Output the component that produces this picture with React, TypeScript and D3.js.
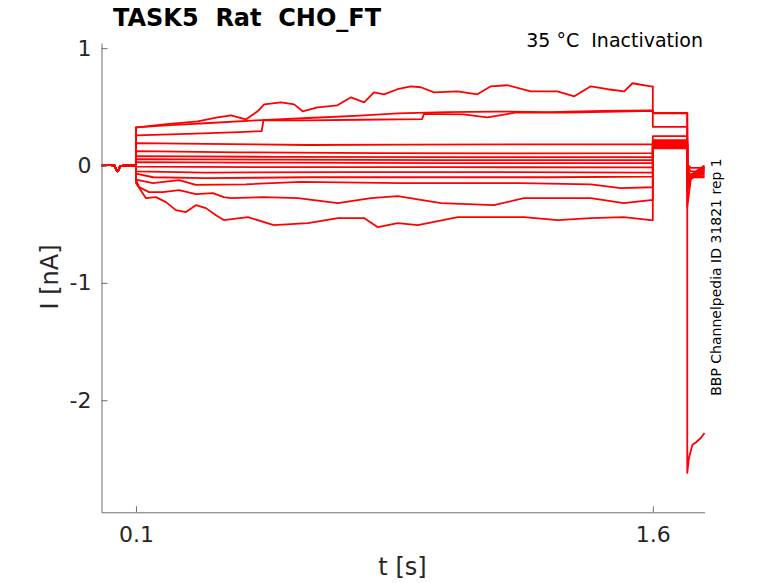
import React, { useEffect } from 'react';
import * as d3 from 'd3';

type Pt = [number, number];

// holding current before the conditioning step (s, nA)
const holding: Pt[] = [
  [0, 0.0], [0.02, 0.005], [0.038, 0.0], [0.042, -0.03], [0.046, -0.05], [0.05, -0.035], [0.054, -0.005],
  [0.075, 0.003], [0.1, 0.0],
];

// conditioning step 0.1 s .. 1.6 s
const stepA: Pt[] = [
  [0.1, 0.325], [0.105, 0.325], [0.182, 0.35], [0.279, 0.376], [0.337, 0.41], [0.376, 0.427],
  [0.419, 0.393], [0.453, 0.462], [0.472, 0.521], [0.521, 0.538], [0.559, 0.521], [0.584, 0.462],
  [0.627, 0.496], [0.685, 0.513], [0.724, 0.581], [0.762, 0.538], [0.791, 0.624], [0.82, 0.607],
  [0.859, 0.65], [0.898, 0.675], [0.927, 0.667], [0.965, 0.624], [1.033, 0.632], [1.091, 0.607],
  [1.13, 0.675], [1.178, 0.684], [1.246, 0.632], [1.323, 0.632], [1.372, 0.59], [1.42, 0.675],
  [1.469, 0.65], [1.517, 0.632], [1.541, 0.701], [1.594, 0.675], [1.6, 0.675],
];
const stepB: Pt[] = [
  [0.1, 0.325], [0.2, 0.345], [0.3, 0.36], [0.45, 0.385], [0.6, 0.405], [0.75, 0.425],
  [0.86, 0.445], [1.0, 0.455], [1.15, 0.46], [1.3, 0.455], [1.45, 0.465], [1.6, 0.47],
];
const stepC: Pt[] = [
  [0.1, 0.256], [0.25, 0.27], [0.4, 0.285], [0.465, 0.293], [0.47, 0.385], [0.6, 0.385],
  [0.75, 0.39], [0.93, 0.395], [0.936, 0.44], [1.05, 0.435], [1.12, 0.41], [1.2, 0.45],
  [1.35, 0.45], [1.5, 0.46], [1.6, 0.465],
];
const stepF1: Pt[] = [[0.1, 0.19], [0.3, 0.185], [0.6, 0.175], [0.9, 0.178], [1.2, 0.18], [1.6, 0.18]];
const stepF2: Pt[] = [[0.1, 0.123], [0.4, 0.112], [0.8, 0.106], [1.2, 0.104], [1.6, 0.106]];
const stepF3: Pt[] = [[0.1, 0.08], [0.5, 0.074], [1.0, 0.072], [1.6, 0.072]];
const stepF4: Pt[] = [[0.1, 0.055], [0.5, 0.05], [1.0, 0.046], [1.6, 0.046]];
const stepF5: Pt[] = [[0.1, 0.029], [0.5, 0.024], [1.0, 0.02], [1.6, 0.02]];
const stepF6: Pt[] = [[0.1, -0.01], [0.5, -0.014], [1.0, -0.014], [1.6, -0.016]];
const stepF7: Pt[] = [[0.1, -0.05], [0.3, -0.06], [0.7, -0.056], [1.2, -0.056], [1.6, -0.06]];
const stepF8: Pt[] = [
  [0.1, -0.07], [0.15, -0.1], [0.3, -0.108], [0.6, -0.1], [0.9, -0.1], [1.3, -0.1], [1.6, -0.095],
];
const stepF9: Pt[] = [
  [0.1, -0.12], [0.149, -0.15], [0.225, -0.125], [0.274, -0.165], [0.419, -0.16], [0.579, -0.14],
  [0.869, -0.15], [1.217, -0.15], [1.42, -0.16], [1.507, -0.193], [1.6, -0.185],
];
const stepL2: Pt[] = [
  [0.1, -0.12], [0.109, -0.184], [0.138, -0.227], [0.178, -0.227], [0.225, -0.21], [0.274, -0.244],
  [0.323, -0.235], [0.355, -0.269], [0.376, -0.278], [0.471, -0.269], [0.57, -0.278], [0.686, -0.32],
  [0.782, -0.278], [0.86, -0.26], [0.985, -0.32], [1.139, -0.338], [1.226, -0.278], [1.324, -0.278],
  [1.42, -0.278], [1.516, -0.32], [1.594, -0.295], [1.6, -0.295],
];
const stepL1: Pt[] = [
  [0.1, -0.15], [0.119, -0.235], [0.129, -0.278], [0.158, -0.269], [0.187, -0.312], [0.216, -0.38],
  [0.245, -0.397], [0.274, -0.338], [0.303, -0.363], [0.332, -0.423], [0.355, -0.465], [0.425, -0.44],
  [0.5, -0.508], [0.599, -0.491], [0.686, -0.448], [0.762, -0.448], [0.802, -0.525], [0.86, -0.491],
  [0.918, -0.508], [1.034, -0.44], [1.13, -0.44], [1.226, -0.44], [1.324, -0.465], [1.42, -0.448],
  [1.516, -0.44], [1.594, -0.465], [1.6, -0.465],
];

const steps: Pt[][] = [
  stepA, stepB, stepC, stepF1, stepF2, stepF3, stepF4, stepF5, stepF6, stepF7, stepF8, stepF9, stepL2, stepL1,
];

// test pulse 1.6 s .. 1.7 s, one level per trace
const tailLevels = [0.33, 0.449, 0.445, 0.25, 0.217, 0.205, 0.195, 0.19, 0.183, 0.175, 0.168, 0.16, 0.152, 0.146];

// after 1.7 s: value at start, at 1.71 s and at the end
const postTimes = [1.7, 1.71, 1.75];
const postStart = [-0.35, null, -0.22, -0.2, -0.18, -0.15, -0.12, -0.1, -0.08, -0.05, -0.03, -0.02, 0.0, 0.01];
const postMid = [-0.12, null, -0.1, -0.08, -0.08, -0.09, -0.09, -0.08, -0.09, -0.08, -0.1, -0.1, -0.05, -0.02];
const postEnd = [-0.03, null, -0.02, 0.0, -0.01, -0.04, -0.05, -0.06, -0.07, -0.08, -0.09, -0.1, -0.05, -0.02];
// trace B runs into the large inward current
const spikeB: Pt[] = [
  [1.7, -2.62], [1.705, -2.49], [1.715, -2.38], [1.725, -2.36], [1.74, -2.32], [1.75, -2.28],
];

const xTicks = [0.1, 1.6];
const yTicks = [-2, -1, 0, 1];

const App = () => {
  useEffect(() => {
    drawChart();
  }, []);

  const drawChart = () => {
    d3.select('#trace-chart').select('svg').remove();

    const W = 778;
    const H = 583;
    const svg = d3
      .select('#trace-chart')
      .append('svg')
      .attr('width', W)
      .attr('height', H)
      .style('position', 'absolute')
      .style('left', '0px')
      .style('top', '0px')
      .style('font-family', '"DejaVu Sans", sans-serif');

    const x = d3.scaleLinear().domain([0, 1.75]).range([101.5, 704.5]);
    const y = d3.scaleLinear().domain([-2.955, 1.044]).range([512.3, 43]);

    const line = d3
      .line<Pt>()
      .x((d) => x(d[0]))
      .y((d) => y(d[1]));

    const traces: Pt[][] = steps.map((s, i) => {
      const pts: Pt[] = [...holding, ...s];
      pts.push([1.6, tailLevels[i]], [1.7, tailLevels[i]]);
      if (i === 1) {
        pts.push(...spikeB);
      } else {
        pts.push(
          [postTimes[0], postStart[i] as number],
          [postTimes[1], postMid[i] as number],
          [postTimes[2], postEnd[i] as number],
        );
      }
      return pts;
    });

    svg
      .append('g')
      .selectAll('path')
      .data(traces)
      .enter()
      .append('path')
      .attr('d', (d) => line(d))
      .attr('fill', 'none')
      .attr('stroke', '#ff0000')
      .attr('stroke-width', 1.8)
      .attr('stroke-linejoin', 'round');

    // axes
    const gy = svg
      .append('g')
      .attr('transform', `translate(${x(0)},0)`)
      .call(
        d3
          .axisLeft(y)
          .tickValues(yTicks)
          .tickSizeInner(-6)
          .tickSizeOuter(0)
          .tickPadding(10)
          .tickFormat((d) => String(d)),
      );
    const gx = svg
      .append('g')
      .attr('transform', `translate(0,${y(-2.955)})`)
      .call(
        d3
          .axisBottom(x)
          .tickValues(xTicks)
          .tickSizeInner(-6)
          .tickSizeOuter(0)
          .tickPadding(14)
          .tickFormat((d) => String(d)),
      );
    [gx, gy].forEach((g) => {
      g.select('.domain').attr('stroke', '#6e6e6e');
      g.selectAll('.tick line').attr('stroke', '#6e6e6e');
      g.selectAll('.tick text')
        .attr('fill', '#262626')
        .style('font-size', '22px')
        .style('font-family', '"DejaVu Sans", sans-serif');
    });

    svg
      .append('text')
      .attr('x', 113)
      .attr('y', 26)
      .attr('font-size', 24)
      .attr('font-weight', 'bold')
      .attr('fill', '#000')
      .style('white-space', 'pre')
      .text('TASK5  Rat  CHO_FT');

    svg
      .append('text')
      .attr('x', 703)
      .attr('y', 47)
      .attr('text-anchor', 'end')
      .attr('font-size', 19)
      .attr('fill', '#000')
      .style('white-space', 'pre')
      .text('35 °C  Inactivation');

    svg
      .append('text')
      .attr('transform', 'translate(721,277) rotate(-90)')
      .attr('text-anchor', 'middle')
      .attr('font-size', 14)
      .attr('fill', '#000')
      .text('BBP Channelpedia ID 31821 rep 1');

    svg
      .append('text')
      .attr('transform', 'translate(58,277) rotate(-90)')
      .attr('text-anchor', 'middle')
      .attr('font-size', 24)
      .attr('fill', '#262626')
      .text('I [nA]');

    svg
      .append('text')
      .attr('x', 402.5)
      .attr('y', 575)
      .attr('text-anchor', 'middle')
      .attr('font-size', 24)
      .attr('fill', '#262626')
      .text('t [s]');
  };

  return <div id="trace-chart"></div>;
};

export default App;
